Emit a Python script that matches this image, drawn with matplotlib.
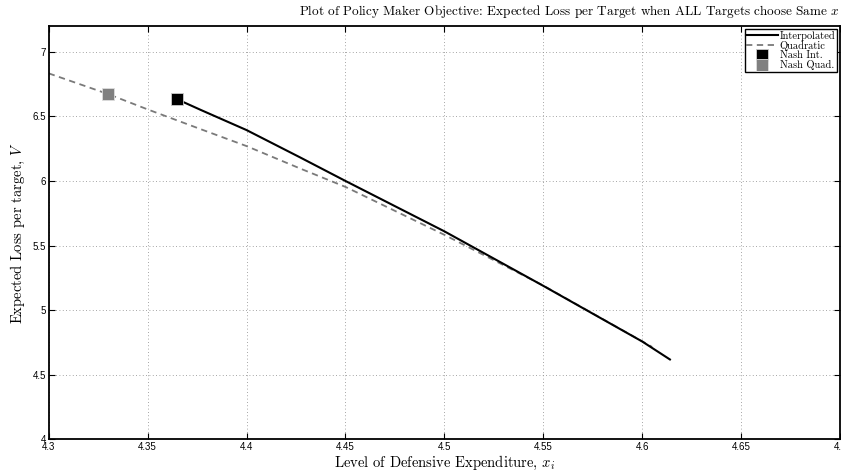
import matplotlib
matplotlib.use('Agg')
import matplotlib.pyplot as plt

plt.rcParams['mathtext.fontset'] = 'cm'
plt.rcParams['axes.formatter.use_mathtext'] = False

int_x = [4.365, 4.377, 4.4, 4.427, 4.45, 4.5, 4.55, 4.6, 4.614]
int_y = [6.632, 6.549, 6.394, 6.183, 6.0, 5.61, 5.188, 4.757, 4.618]
quad_x = [4.3, 4.33, 4.35, 4.377, 4.4, 4.427, 4.45, 4.5, 4.55, 4.605]
quad_y = [6.833, 6.673, 6.554, 6.40, 6.27, 6.097, 5.954, 5.583, 5.19, 4.715]
nash_int = (4.365, 6.632)
nash_quad = (4.33, 6.673)

xticks = [4.3, 4.35, 4.4, 4.45, 4.5, 4.55, 4.6, 4.65, 4.7]
xticklabels = ['4.3', '4.35', '4.4', '4.45', '4.5', '4.55', '4.6', '4.65', '4.7']
yticks = [4, 4.5, 5, 5.5, 6, 6.5, 7]
yticklabels = ['4', '4.5', '5', '5.5', '6', '6.5', '7']

fig = plt.figure(figsize=(8.41, 4.72), dpi=100)
ax = fig.add_axes([0.0579, 0.0693, 0.941, 0.8757])

ax.plot(int_x, int_y, color='black', lw=1.5, label='Interpolated', zorder=3)
ax.plot(quad_x, quad_y, color='#7a7a7a', lw=1.3, ls=(0, (3.5, 2.5)), label='Quadratic', zorder=2)
ax.plot([nash_int[0]], [nash_int[1]], ls='none', marker='s', ms=8.5, color='black',
        mec='#cccccc', mew=0.6, label='Nash Int.', zorder=4)
ax.plot([nash_quad[0]], [nash_quad[1]], ls='none', marker='s', ms=8.5, color='#808080',
        mec='#dddddd', mew=0.6, label='Nash Quad.', zorder=4)

ax.set_xlim(4.3, 4.7)
ax.set_ylim(4, 7.2)
ax.set_xticks(xticks)
ax.set_xticklabels(xticklabels)
ax.set_yticks(yticks)
ax.set_yticklabels(yticklabels)
ax.tick_params(direction='in', length=4, width=0.8, top=True, right=True,
               labelsize=7, pad=2)
for lab in ax.get_xticklabels() + ax.get_yticklabels():
    lab.set_fontfamily('Liberation Sans')
ax.grid(True, ls=(0, (1, 3)), color='#888888', lw=0.6)
for s in ax.spines.values():
    s.set_linewidth(1.3)

ax.set_xlabel('Level of Defensive Expenditure, $x_i$', fontfamily='cmr10', fontsize=10.5, labelpad=1)
ax.set_ylabel('Expected Loss per target, $V$', fontfamily='cmr10', fontsize=10.5, labelpad=4)
fig.text(0.998, 0.975, 'Plot of Policy Maker Objective: Expected Loss per Target when ALL Targets choose Same $x$',
         ha='right', va='center', fontfamily='cmr10', fontsize=9.5)

leg = ax.legend(loc='upper right', prop={'family': 'cmr10', 'size': 7.5},
                fancybox=False, edgecolor='black', framealpha=1, borderpad=0.15,
                labelspacing=0.0, handlelength=3.0, handletextpad=0.2, borderaxespad=0.3,
                markerscale=1.1)
leg.get_frame().set_linewidth(1.0)

fig.savefig('out.png', dpi=100)
